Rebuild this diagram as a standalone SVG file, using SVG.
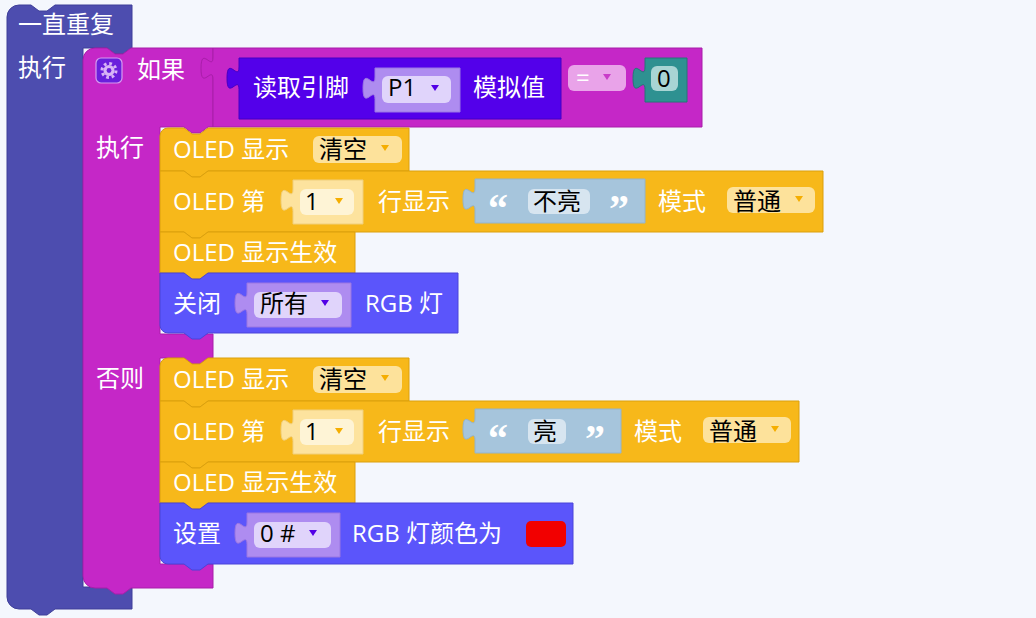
<svg xmlns="http://www.w3.org/2000/svg" width="1036" height="618" viewBox="0 0 1036 618">
<defs>
<style>
.t{font-family:"Open Sans","Noto Sans CJK SC",sans-serif;font-size:24px;fill:#fff}
.k{fill:#000}
.q{font-family:"Liberation Serif",serif;font-weight:bold;font-size:40px;fill:#fff}
.fv{fill:#4d4daf;stroke:#3f3f99;stroke-width:1}
.lg{fill:#c527c7;stroke:#a81ea9;stroke-width:1}
.rd{fill:#5300ea;stroke:#4500c4;stroke-width:1}
.pd{fill:#ae8cf0;stroke:#9a76e2;stroke-width:1}
.tl{fill:#2e9191;stroke:#247777;stroke-width:1}
.ol{fill:#f7b81a;stroke:#dba00c;stroke-width:1}
.ns{fill:#fde39e;stroke:#f0cf7c;stroke-width:1}
.tx{fill:#a6c5dc;stroke:#94b4cc;stroke-width:1}
.rgb{fill:#5b55fb;stroke:#4a44d8;stroke-width:1}
.fY{fill:#fde29b}
.fN{fill:#fef4d6}
.fP{fill:#e0d4fb}
.fT{fill:#d7e5f0}
.aY{fill:#f5ae00}
.aP{fill:#5200e6}
</style>
</defs>
<rect x="0" y="0" width="1036" height="618" fill="#f4f7fd"/>

<g id="forever">
<path class="fv" d="M7,17 A12,12 0 0 1 19,5 H31 L39,11 H47 L55,5 H132 V48 H131 L123,54 H115 L107,48 H83 V587 H132 V609 H55 L47,615 H39 L31,609 H19 A12,12 0 0 1 7,597 Z"/>
<text class="t" x="18" y="33">一直重复</text>
<text class="t" x="18" y="76">执行</text>
</g>

<g id="if">
<path class="lg" d="M83,60 A12,12 0 0 1 95,48 H107 L115,54 H123 L131,48 H213 V127 H208 L200,133 H192 L184,127 H160 V334 H213 V358 H208 L200,364 H192 L184,358 H160 V564 H213 V588 H131 L123,594 H115 L107,588 H95 A12,12 0 0 1 83,576 Z"/>
<rect x="96" y="58" width="26" height="25" rx="5" fill="#6a1fdc" stroke="#d59cf0" stroke-width="1.2"/>
<g transform="translate(109,70.5)">
<circle r="7" fill="none" stroke="#d8b4f6" stroke-width="3" stroke-dasharray="2.75 2.75"/>
<circle r="5.5" fill="#d8b4f6"/>
<circle r="2.4" fill="#6a1fdc"/>
</g>
<text class="t" x="137" y="78">如果</text>
<text class="t" x="96" y="156">执行</text>
<text class="t" x="96" y="387">否则</text>
</g>

<g id="compare">
<path class="lg" d="M213,48 H702 V127 H213 V79.5 c 0,-15 -12,12 -12,-11.25 s 12,3.75 12,-11.25 Z"/>
<rect x="568" y="65" width="58" height="26" rx="6" fill="#e9a3e9"/>
<text class="t" x="576" y="86">=</text>
<polygon points="603,74 611,74 607,80" fill="#c93cc9"/>
</g>

<g id="read-pin">
<path class="rd" d="M239,58 H561 V119 H239 V89.5 c 0,-15 -12,12 -12,-11.25 s 12,3.75 12,-11.25 Z"/>
<text class="t" x="253" y="96">读取引脚</text>
<path class="pd" d="M375,68 H460 V112 H375 V99.5 c 0,-15 -12,12 -12,-11.25 s 12,3.75 12,-11.25 Z"/>
<rect class="fP" x="382" y="76" width="69" height="27" rx="6"/>
<text class="t k" x="388" y="96">P1</text>
<polygon class="aP" points="431,85 439,85 435,91"/>
<text class="t" x="473" y="96">模拟值</text>
</g>

<g id="number">
<path class="tl" d="M645,58 H687 V102 H645 V89.5 c 0,-15 -12,12 -12,-11.25 s 12,3.75 12,-11.25 Z"/>
<rect x="651" y="66" width="27" height="25" rx="6" fill="#a8d5d4"/>
<text class="t k" x="657" y="87">0</text>
</g>

<g id="oled-clear-1">
<path class="ol" d="M160,136 A8,8 0 0 1 168,128 H184 L192,134 H200 L208,128 H409 V171 H208 L200,177 H192 L184,171 H160 Z"/>
<text class="t" x="173" y="158">OLED 显示</text>
<rect class="fY" x="313" y="136" width="89" height="27" rx="6"/>
<text class="t k" x="319" y="158">清空</text>
<polygon class="aY" points="381,145 389,145 385,151"/>
</g>

<g id="oled-line-1">
<path class="ol" d="M160,171 H184 L192,177 H200 L208,171 H823 V232 H208 L200,238 H192 L184,232 H160 Z"/>
<text class="t" x="173" y="210">OLED 第</text>
<path class="ns" d="M293,180 H363 V224 H293 V211.5 c 0,-15 -12,12 -12,-11.25 s 12,3.75 12,-11.25 Z"/>
<rect class="fN" x="300" y="189" width="54" height="26" rx="6"/>
<text class="t k" x="305" y="210">1</text>
<polygon class="aY" points="335,198 343,198 339,204"/>
<text class="t" x="378" y="210">行显示</text>
<path class="tx" d="M475,179 H645 V223 H475 V210.5 c 0,-15 -12,12 -12,-11.25 s 12,3.75 12,-11.25 Z"/>
<text class="q" x="488" y="222">“</text>
<rect class="fT" x="528" y="189" width="62" height="25" rx="6"/>
<text class="t k" x="533" y="210">不亮</text>
<text class="q" x="609" y="222">”</text>
<text class="t" x="658" y="210">模式</text>
<rect class="fY" x="727" y="187" width="88" height="26" rx="6"/>
<text class="t k" x="733" y="210">普通</text>
<polygon class="aY" points="795,196 803,196 799,202"/>
</g>

<g id="oled-show-1">
<path class="ol" d="M160,232 H184 L192,238 H200 L208,232 H355 V273 H208 L200,279 H192 L184,273 H160 Z"/>
<text class="t" x="173" y="261">OLED 显示生效</text>
</g>

<g id="rgb-off">
<path class="rgb" d="M160,273 H184 L192,279 H200 L208,273 H458 V333 H208 L200,339 H192 L184,333 H168 A8,8 0 0 1 160,325 Z"/>
<text class="t" x="173" y="312">关闭</text>
<path class="pd" d="M247,283 H351 V327 H247 V314.5 c 0,-15 -12,12 -12,-11.25 s 12,3.75 12,-11.25 Z"/>
<rect class="fP" x="254" y="292" width="88" height="26" rx="6"/>
<text class="t k" x="260" y="312">所有</text>
<polygon class="aP" points="321,300 329,300 325,306"/>
<text class="t" x="365" y="312">RGB 灯</text>
</g>

<g id="oled-clear-2">
<path class="ol" d="M160,366 A8,8 0 0 1 168,358 H184 L192,364 H200 L208,358 H409 V401 H208 L200,407 H192 L184,401 H160 Z"/>
<text class="t" x="173" y="388">OLED 显示</text>
<rect class="fY" x="313" y="366" width="89" height="27" rx="6"/>
<text class="t k" x="319" y="388">清空</text>
<polygon class="aY" points="381,375 389,375 385,381"/>
</g>

<g id="oled-line-2">
<path class="ol" d="M160,401 H184 L192,407 H200 L208,401 H799 V462 H208 L200,468 H192 L184,462 H160 Z"/>
<text class="t" x="173" y="440">OLED 第</text>
<path class="ns" d="M293,410 H363 V454 H293 V441.5 c 0,-15 -12,12 -12,-11.25 s 12,3.75 12,-11.25 Z"/>
<rect class="fN" x="300" y="419" width="54" height="26" rx="6"/>
<text class="t k" x="305" y="440">1</text>
<polygon class="aY" points="335,428 343,428 339,434"/>
<text class="t" x="378" y="440">行显示</text>
<path class="tx" d="M475,409 H621 V453 H475 V440.5 c 0,-15 -12,12 -12,-11.25 s 12,3.75 12,-11.25 Z"/>
<text class="q" x="488" y="452">“</text>
<rect class="fT" x="528" y="419" width="38" height="25" rx="6"/>
<text class="t k" x="533" y="440">亮</text>
<text class="q" x="585" y="452">”</text>
<text class="t" x="634" y="440">模式</text>
<rect class="fY" x="703" y="417" width="88" height="26" rx="6"/>
<text class="t k" x="709" y="440">普通</text>
<polygon class="aY" points="771,426 779,426 775,432"/>
</g>

<g id="oled-show-2">
<path class="ol" d="M160,462 H184 L192,468 H200 L208,462 H355 V503 H208 L200,509 H192 L184,503 H160 Z"/>
<text class="t" x="173" y="491">OLED 显示生效</text>
</g>

<g id="rgb-set">
<path class="rgb" d="M160,503 H184 L192,509 H200 L208,503 H573 V564 H208 L200,570 H192 L184,564 H168 A8,8 0 0 1 160,556 Z"/>
<text class="t" x="173" y="542">设置</text>
<path class="pd" d="M247,513 H340 V557 H247 V544.5 c 0,-15 -12,12 -12,-11.25 s 12,3.75 12,-11.25 Z"/>
<rect class="fP" x="254" y="522" width="77" height="26" rx="6"/>
<text class="t k" x="260" y="542">0 #</text>
<polygon class="aP" points="309,530 317,530 313,536"/>
<text class="t" x="352" y="542">RGB 灯颜色为</text>
<rect x="526" y="521" width="40" height="26" rx="5" fill="#f20000"/>
</g>

<g id="connectors"></g>
</svg>
